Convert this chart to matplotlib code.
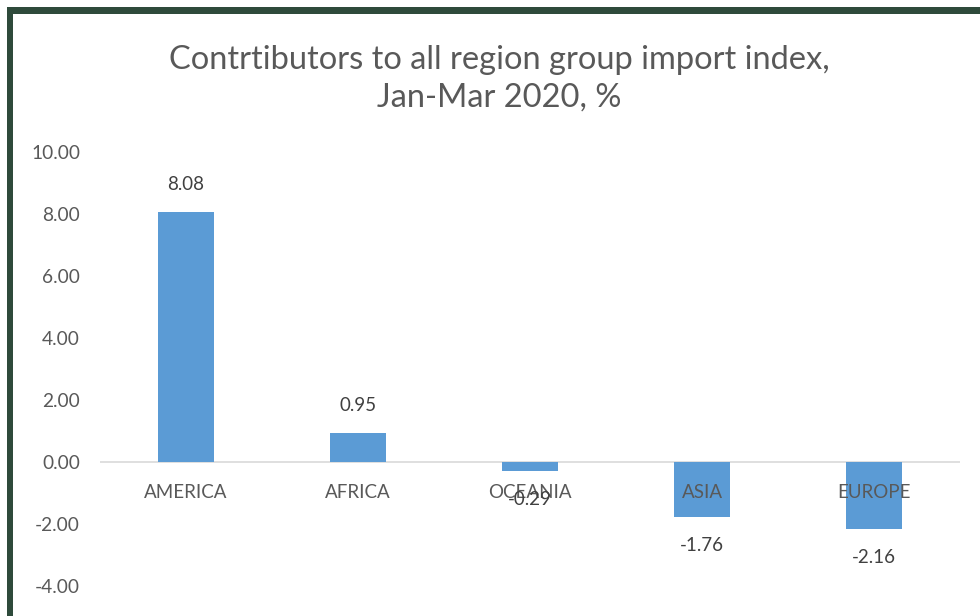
import matplotlib
matplotlib.use("Agg")
import matplotlib.pyplot as plt
from matplotlib.patches import Rectangle

categories = ["AMERICA", "AFRICA", "OCEANIA", "ASIA", "EUROPE"]
values = [8.08, 0.95, -0.29, -1.76, -2.16]
yticks = [-4, -2, 0, 2, 4, 6, 8, 10]
title = "Contrtibutors to all region group import index,\nJan-Mar 2020, %"

plt.rcParams['font.family'] = ['Lato', 'DejaVu Sans']
W, H = 980, 616
PX = 0.72  # points per pixel at 100 dpi
fig = plt.figure(figsize=(W / 100, H / 100), dpi=100)
fig.patch.set_facecolor("white")

border = "#2e4a3b"
fig.patches.append(Rectangle((7 / W, 0), 6 / W, (H - 7) / H, transform=fig.transFigure,
                             facecolor=border, edgecolor="none", zorder=0))
fig.patches.append(Rectangle((7 / W, (H - 14) / H), (W - 7) / W, 7 / H, transform=fig.transFigure,
                             facecolor=border, edgecolor="none", zorder=0))

left, right = 100 / W, 960 / W
bottom, top = (H - 586) / H, (H - 152) / H
ax = fig.add_axes([left, bottom, right - left, top - bottom])
ax.set_facecolor("none")

x = list(range(len(categories)))
ax.bar(x, values, width=0.32, color="#5b9bd5", zorder=2)
ax.set_xlim(-0.5, len(categories) - 0.5)
ax.set_ylim(-4, 10)
ax.set_yticks(yticks)
ax.set_yticklabels([f"{v:.2f}" for v in yticks], color="#595959", fontsize=13.8)
ax.tick_params(axis="y", length=0, pad=20 * PX)
ax.set_xticks([])
for s in ax.spines.values():
    s.set_visible(False)
ax.axhline(0, color="#d9d9d9", lw=1.2, zorder=1)

for i, (c, v) in enumerate(zip(categories, values)):
    ax.annotate(c, (i, 0), xytext=(0, -30 * PX), textcoords="offset points", ha="center",
                va="center", fontsize=13.5, color="#595959", zorder=3)
    off = 27 if v >= 0 else -29
    ax.annotate(f"{v:.2f}", (i, v), xytext=(0, off * PX), textcoords="offset points",
                ha="center", va="center", fontsize=13.5, color="#404040", zorder=3)

fig.text(499 / W, (H - 79) / H, title, ha="center", va="center", fontsize=23.5,
         color="#595959", linespacing=1.3)

fig.savefig("out.png", dpi=100)
